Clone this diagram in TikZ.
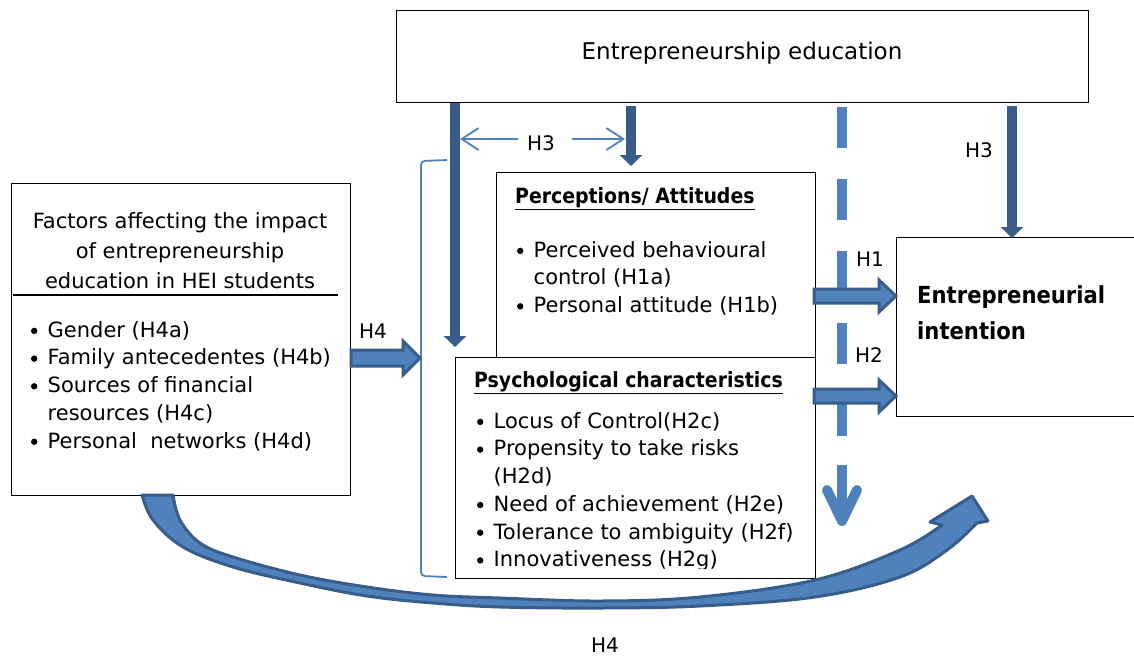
\documentclass[tikz,border=0pt]{standalone}
\usepackage{fontspec}
\setmainfont{DejaVu Sans}[BoldFont={DejaVu Sans Condensed Bold}]
\usetikzlibrary{arrows.meta,calc}
\definecolor{darkblue}{RGB}{56,93,138}
\definecolor{lightblue}{RGB}{79,129,189}
% round bullet with a fixed gap before the item text
\newcommand{\bl}{\makebox[14pt]{\tikz[baseline=0pt]\fill (0pt,6.3pt) circle (3.2pt);}\hspace{6.5pt}}
\newcommand{\ind}{\hspace*{20.5pt}}
% strut fixing the distance from a node's top to its first baseline
\newcommand{\topstrut}[1]{\rule{0pt}{#1}}
% outlined block arrow between two points at the same height
\newcommand{\blockarrow}[4]{%
  \filldraw[blockfill] ($(#1)+(0,-#3)$) -- ($(#2)+(-17,-#3)$) -- ($(#2)+(-17,-#4)$) -- (#2)
    -- ($(#2)+(-17,#4)$) -- ($(#2)+(-17,#3)$) -- ($(#1)+(0,#3)$) -- cycle;}
\begin{document}
\begin{tikzpicture}[x=1pt,y=-1pt,
  box/.style={draw=black,line width=1.2pt,fill=white,inner sep=0pt,anchor=north west},
  txt/.style={font=\fontsize{21}{27.7}\selectfont,inner sep=0pt},
  body/.style={txt,align=left,anchor=north west},
  head/.style={font=\fontsize{21}{27.7}\selectfont\bfseries,inner sep=0pt,anchor=base west},
  hlabel/.style={font=\fontsize{20}{24}\selectfont,inner sep=0pt},
  downarrow/.style={draw=darkblue,line width=10pt,-{Triangle[width=22pt,length=11pt]}},
  thinarrow/.style={draw=lightblue,line width=1.8pt,-{Straight Barb[length=17pt,width=22pt]}},
  blockfill/.style={fill=lightblue,draw=darkblue,line width=3pt,line join=miter},
  dashline/.style={draw=lightblue,line width=10pt},
]
\useasboundingbox (0,0) rectangle (1134,657);

% boxes
\node[box,minimum width=692pt,minimum height=92pt] (edu) at (396,10) {};
\node[box,minimum width=339pt,minimum height=312pt] (factors) at (11,183) {};
\node[box,minimum width=319pt,minimum height=188pt] (percep) at (496,172) {};
\node[box,minimum width=360pt,minimum height=221pt] (psych) at (455,357) {};
\node[box,minimum width=242pt,minimum height=179pt] (intent) at (896,237) {};

% box texts
\node[txt,anchor=base,font=\fontsize{23}{28}\selectfont] (edutxt) at (742,59) {Entrepreneurship education};

\node[txt,align=center,anchor=north,font=\fontsize{21}{30}\selectfont] (factitle) at (180,208)
  {\topstrut{20pt}Factors affecting the impact\\ of entrepreneurship\\ education in HEI students};
\draw[line width=1.2pt] (13,295) -- (338,295);
\node[body] (faclist) at (27,317)
  {\topstrut{20pt}\bl Gender (H4a)\\ \bl Family antecedentes (H4b)\\ \bl Sources of financial\\
   \ind resources (H4c)\\ \bl Personal~ networks (H4d)};

\node[head] (pertitle) at (515,203) {\underline{Perceptions/ Attitudes}};
\node[body] (perlist) at (513,237)
  {\topstrut{20pt}\bl Perceived behavioural\\ \ind control (H1a)\\ \bl Personal attitude (H1b)};

\node[head] (psytitle) at (474,387) {\underline{Psychological characteristics}};
\begin{scope}
  \clip (455,357) rectangle (815,568);
  \node[body] (psylist) at (473,408)
    {\topstrut{20pt}\bl Locus of Control(H2c)\\ \bl Propensity to take risks\\ \ind (H2d)\\
     \bl Need of achievement (H2e)\\ \bl Tolerance to ambiguity (H2f)\\ \bl Innovativeness (H2g)};
\end{scope}

\node[align=left,anchor=north west,inner sep=0pt,font=\fontsize{23.5}{36}\selectfont\bfseries]
  (inttxt) at (917,281) {\topstrut{22pt}Entrepreneurial\\ intention};

% bracket grouping the two middle boxes
\draw[lightblue,line width=1.8pt,rounded corners=4pt] (447,160) -- (421,161) -- (421,576) -- (447,577);

% arrows from entrepreneurship education
\coordinate (a1) at (455,347);
\coordinate (a2) at (631,166);
\coordinate (a3) at (1012,238);
\draw[downarrow] (a1 |- edu.south) -- (a1);
\draw[downarrow] ([yshift=-3pt]a2 |- edu.south) -- (a2);
\draw[downarrow] ([yshift=-3pt]a3 |- edu.south) -- (a3);

% H3 pointers
\coordinate (h3l) at (460,139);
\coordinate (h3r) at (625,139);
\node[hlabel] (h3a) at (541,143) {H3};
\draw[thinarrow] (518,139) -- (h3l);
\draw[thinarrow] (572,139) -- (h3r);
\node[hlabel] (h3b) at (979,150) {H3};

% dashed direct effect
\coordinate (d0) at (842,107);
\coordinate (d1) at (842,437);
\coordinate (d2) at (842,465);
\coordinate (d3) at (842,521);
\draw[dashline,dash pattern=on 41pt off 31pt] (d0) -- (d1);
\draw[dashline] (d2) -- (d3);
\draw[dashline,line cap=round,line join=round] ($(d3)+(-15,-31)$) -- (d3) -- ($(d3)+(15,-31)$);

% block arrows H1, H2, H4
\coordinate (h1a) at (814,296);
\coordinate (h1b) at (intent.west |- h1a);
\blockarrow{h1a}{h1b}{7}{16}
\coordinate (h2a) at (814,396);
\coordinate (h2b) at (intent.west |- h2a);
\blockarrow{h2a}{h2b}{7}{16}
\coordinate (h4a) at (factors.east |- 0,358);
\coordinate (h4b) at (420,358);
\blockarrow{h4a}{h4b}{8}{17}
\node[hlabel] (h1l) at (870,259) {H1};
\node[hlabel] (h2l) at (869,355) {H2};
\node[hlabel] (h4l) at (373,331) {H4};

% curved arrow from the factors box to the intention
\filldraw[blockfill,line join=round]
  plot[smooth,tension=0.6] coordinates {(142,495) (153,520) (183,547) (233,567) (300,583) (367,596)
     (433,603) (500,607) (600,608) (700,606) (815,597) (900,577) (947,550) (977,523)}
  -- (988,521) -- (972,496) -- (930,522) -- (942,525)
  -- plot[smooth,tension=0.6] coordinates {(942,525) (900,550) (815,580) (700,597) (600,601) (500,598)
     (433,595) (367,587) (300,575) (233,557) (200,543) (180,520) (173,495)}
  -- cycle;
\node[hlabel] (h4m) at (605,645) {H4};
\end{tikzpicture}
\end{document}
